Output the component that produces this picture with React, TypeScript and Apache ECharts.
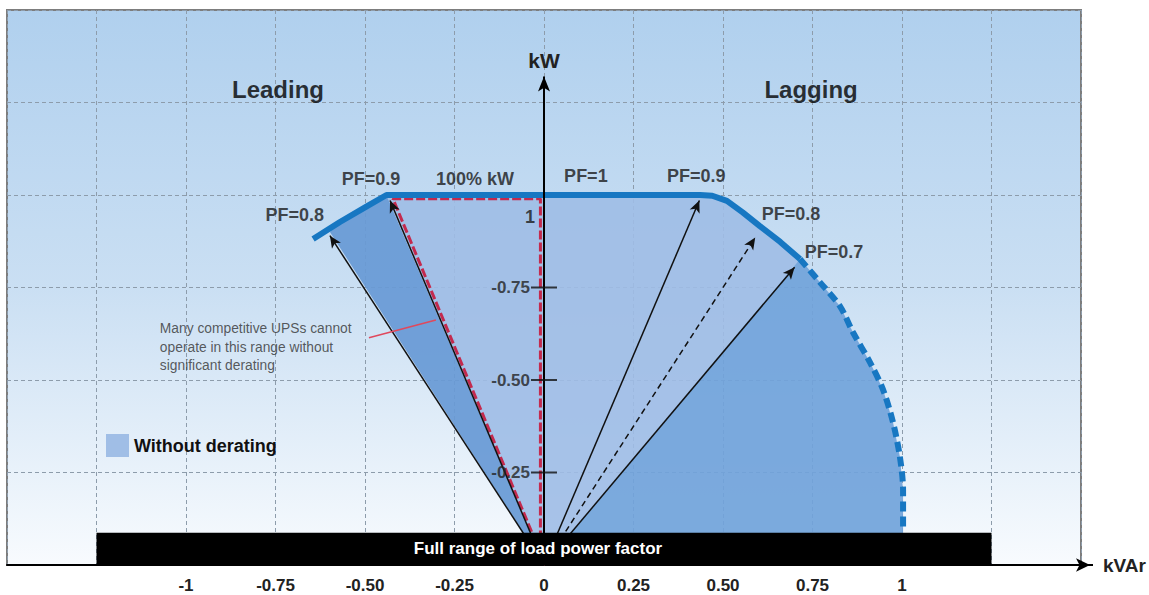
import React, { useEffect, useRef } from 'react';
import * as echarts from 'echarts';

// ---------- data ----------
const xTickValues = [-1, -0.75, -0.5, -0.25, 0, 0.25, 0.5, 0.75, 1];
const xTickLabels = ['-1', '-0.75', '-0.50', '-0.25', '0', '0.25', '0.50', '0.75', '1'];
const yTickValues = [0.25, 0.5, 0.75];
const yTickLabels = ['-0.25', '-0.50', '-0.75'];

// capability boundary (kVAr, kW)
const leadingCurve = [[-0.645, 0.881], [-0.57, 0.927], [-0.494, 0.97], [-0.44, 1.0]];
const flatTop = [[0.436, 1.0]];
const laggingSolidArc = [[0.47, 0.998], [0.511, 0.984], [0.555, 0.953], [0.603, 0.916], [0.66, 0.873], [0.715, 0.827]];
const laggingDashedArc = [[0.715, 0.827], [0.771, 0.764], [0.827, 0.699], [0.863, 0.629], [0.911, 0.547], [0.947, 0.474], [0.975, 0.385], [0.994, 0.293], [1.003, 0.203], [1.003, 0.09]];

// shaded regions
const origin = [0, 0];
const leadingWedge = [origin, [-0.598, 0.9], [-0.57, 0.927], [-0.494, 0.97], [-0.44, 1.0]];
const withoutDeratingFan = [origin, [-0.44, 1.0], ...flatTop, ...laggingSolidArc];
const laggingArcRegion = [origin, ...laggingDashedArc, [1.003, 0]];

// competitor limit (red dashed)
const competitorLimit = [[0.004, 0], [-0.422, 0.99], [-0.01, 0.99], [-0.01, 0]];

// power factor vectors
const vectorTips = [[-0.598, 0.89], [-0.43, 0.985], [0.434, 0.985], [0.59, 0.885], [0.7, 0.805]];
const vectorDashed = [false, false, false, true, false];

const kwAxisTop = 1.32;
const fullRangeX = [-1.25, 1.25];
const fullRangeTop = 0.087;
const fullRangeText = 'Full range of load power factor';
const annotationLeader = [[-0.489, 0.614], [-0.302, 0.662]];

const textLabels = [
  { text: 'Leading', at: [-0.743, 1.284], kind: 'title' },
  { text: 'Lagging', at: [0.746, 1.284], kind: 'title' },
  { text: 'PF=0.8', at: [-0.696, 0.946], kind: 'pf' },
  { text: 'PF=0.9', at: [-0.483, 1.043], kind: 'pf' },
  { text: '100% kW', at: [-0.193, 1.043], kind: 'pf' },
  { text: 'PF=1', at: [0.117, 1.051], kind: 'pf' },
  { text: 'PF=0.9', at: [0.425, 1.051], kind: 'pf' },
  { text: 'PF=0.8', at: [0.69, 0.949], kind: 'pf' },
  { text: 'PF=0.7', at: [0.81, 0.846], kind: 'pf' },
  { text: '1', at: [-0.039, 0.941], kind: 'pf' },
  { text: 'Many competitive UPSs cannot\noperate in this range without\nsignificant derating', at: [-1.073, 0.589], kind: 'note' },
];

const FONT = "'Liberation Sans', Arial, Helvetica, sans-serif";

function polygonSeries(name: string, pts: number[][], color: string) {
  return {
    type: 'custom',
    name,
    silent: true,
    z: 2,
    itemStyle: { color },
    data: pts,
    renderItem: (params: any, api: any) => {
      if (params.dataIndex !== 0) return null;
      const points = pts.map((p) => api.coord(p));
      return { type: 'polygon', shape: { points }, style: { fill: color } };
    },
  };
}

export default function App() {
  const ref = useRef<HTMLDivElement>(null);
  useEffect(() => {
    document.body.style.margin = '0';
    const chart = echarts.init(ref.current!, null, { renderer: 'svg' });
    const labelStyles: any = {
      title: { fontSize: 24, fontWeight: 'bold', color: '#000', fontFamily: FONT },
      pf: { fontSize: 18, fontWeight: 'bold', color: '#1a1a1a', fontFamily: FONT },
      note: { fontSize: 13.8, color: '#333', fontFamily: FONT, align: 'left', lineHeight: 18.5 },
    };
    const barPts = [[fullRangeX[0], 0], [fullRangeX[1], fullRangeTop]];
    const option: any = {
      animation: false,
      grid: {
        left: 7, right: 68, top: 10, bottom: 30,
        containLabel: false,
        outerBoundsMode: 'none',
        show: true,
        borderColor: '#7d7d7d',
        borderWidth: 2,
        backgroundColor: new echarts.graphic.LinearGradient(0, 0, 0, 1, [
          { offset: 0, color: '#b0d0ee' },
          { offset: 0.5, color: '#cadff3' },
          { offset: 1, color: '#f8fbfe' },
        ]),
      },
      legend: {
        left: 106, top: 434, padding: 0,
        itemWidth: 23, itemHeight: 23,
        selectedMode: false,
        data: [{ name: 'Without derating', icon: 'rect', itemStyle: { color: '#a0bee6' } }],
        textStyle: { fontSize: 18, fontWeight: 'bold', color: '#111', fontFamily: FONT },
      },
      xAxis: {
        type: 'value', min: -1.5, max: 1.5, interval: 0.25,
        name: 'kVAr', nameLocation: 'end', nameGap: 22,
        nameTextStyle: { fontSize: 19, fontWeight: 'bold', color: '#222', fontFamily: FONT, padding: [8, 0, 0, 0] },
        axisLine: { show: true, onZero: false, lineStyle: { color: '#000', width: 2 }, symbol: ['none', 'arrow'], symbolSize: [10, 14], symbolOffset: [0, 9] },
        axisTick: { show: false },
        axisLabel: {
          customValues: xTickValues, margin: 12,
          formatter: (v: number) => { const i = xTickValues.findIndex((t) => Math.abs(t - v) < 1e-6); return i >= 0 ? xTickLabels[i] : ''; },
          fontSize: 17, fontWeight: 'bold', color: '#222', fontFamily: FONT,
        },
        splitLine: { show: true, lineStyle: { color: '#8d9cab', width: 1, type: [4, 3] } },
      },
      yAxis: {
        type: 'value', min: 0, max: 1.5, interval: 0.25,
        axisLine: { show: false },
        axisTick: { show: false },
        axisLabel: { show: false },
        splitLine: { show: true, lineStyle: { color: '#8d9cab', width: 1, type: [4, 3] } },
      },
      series: [
        polygonSeries('leadingWedge', leadingWedge, 'rgba(104,154,213,0.93)'),
        polygonSeries('Without derating', withoutDeratingFan, 'rgba(158,189,229,0.9)'),
        polygonSeries('laggingArc', laggingArcRegion, 'rgba(113,163,218,0.92)'),
        {
          type: 'line', silent: true, z: 3, data: competitorLimit, showSymbol: false, symbol: 'none',
          lineStyle: { color: '#c32a4e', width: 3, type: [9, 3] },
        },
        {
          type: 'line', silent: true, z: 4, data: [],
          markLine: {
            silent: true, z: 6, symbol: ['none', 'arrow'], symbolSize: [8, 12],
            label: { show: false },
            lineStyle: { color: '#111', width: 1.5, type: 'solid' },
            data: vectorTips.map((tip, i) => [
              { coord: origin, lineStyle: { type: vectorDashed[i] ? [6, 4] : 'solid' } },
              { coord: tip },
            ]),
          },
        },
        {
          type: 'line', silent: true, z: 7, data: [...leadingCurve, ...flatTop, ...laggingSolidArc], showSymbol: false, symbol: 'none',
          lineStyle: { color: '#1777c2', width: 6, cap: 'butt' },
        },
        {
          type: 'line', silent: true, z: 7, data: laggingDashedArc, showSymbol: false, symbol: 'none', smooth: 0.3,
          lineStyle: { color: '#1777c2', width: 6, type: [10, 5] },
        },
        {
          type: 'line', silent: true, z: 7, data: annotationLeader, showSymbol: false, symbol: 'none',
          lineStyle: { color: '#e0485c', width: 1.5 },
        },
        {
          type: 'line', silent: true, z: 21, data: [],
          markLine: {
            silent: true, z: 21, symbol: ['none', 'arrow'], symbolSize: [9, 15],
            lineStyle: { color: '#000', width: 2, type: 'solid' },
            label: { show: true, position: 'end', formatter: 'kW', distance: 6, fontSize: 21, fontWeight: 'bold', color: '#222', fontFamily: FONT },
            data: [[{ coord: origin }, { coord: [0, kwAxisTop] }]],
          },
        },
        {
          type: 'scatter', silent: true, z: 22, symbol: 'rect', symbolSize: [26, 2],
          itemStyle: { color: '#111' },
          data: yTickValues.map((v, i) => ({
            value: [0, v],
            label: { show: true, position: 'left', distance: 1, formatter: yTickLabels[i], fontSize: 17, fontWeight: 'bold', color: '#222', fontFamily: FONT },
          })),
        },
        {
          type: 'custom', silent: true, z: 40, data: barPts,
          renderItem: (params: any, api: any) => {
            if (params.dataIndex !== 0) return null;
            const a = api.coord(barPts[0]);
            const b = api.coord(barPts[1]);
            return {
              type: 'group',
              children: [
                { type: 'rect', shape: { x: a[0], y: b[1], width: b[0] - a[0], height: a[1] - b[1] }, style: { fill: '#000' } },
                {
                  type: 'text',
                  style: {
                    text: fullRangeText, x: (a[0] + b[0]) / 2 - 6, y: (a[1] + b[1]) / 2,
                    fill: '#fff', fontSize: 17, fontWeight: 'bold', fontFamily: FONT, align: 'center', verticalAlign: 'middle',
                  },
                },
              ],
            };
          },
        },
        {
          type: 'scatter', silent: true, z: 30, symbolSize: 0,
          data: textLabels.map((t) => ({
            value: t.at,
            label: { show: true, position: 'inside', formatter: t.text, ...labelStyles[t.kind] },
          })),
        },
      ],
    };
    chart.setOption(option);
    const p = chart.convertToPixel({ gridIndex: 0 }, [1.5, 0]) as number[];
    chart.setOption({
      graphic: [{ type: 'line', silent: true, z: 50, shape: { x1: p[0], y1: p[1], x2: p[0] + 12, y2: p[1] }, style: { stroke: '#000', lineWidth: 2 } }],
    });
    return () => chart.dispose();
  }, []);
  return <div ref={ref} style={{ width: 1149, height: 595 }} />;
}
